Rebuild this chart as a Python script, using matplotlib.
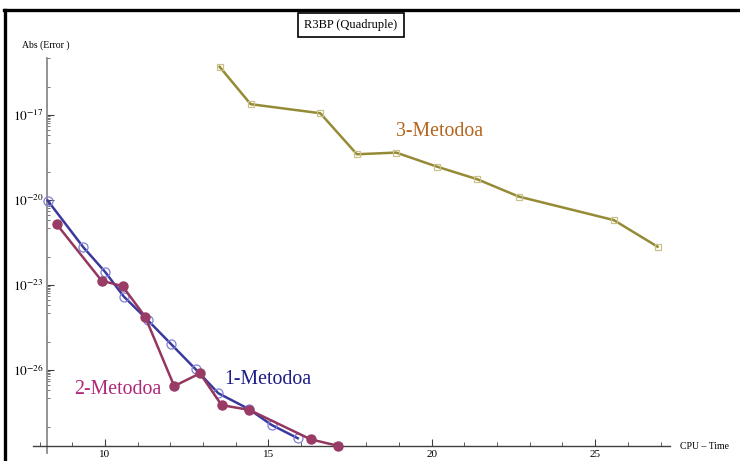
import matplotlib
matplotlib.use("Agg")
import matplotlib.pyplot as plt
from matplotlib.lines import Line2D
from matplotlib.ticker import FixedLocator, NullFormatter, FuncFormatter
import numpy as np

plt.rcParams["font.family"] = ["Liberation Serif", "DejaVu Serif"]
plt.rcParams["mathtext.fontset"] = "stix"

# CPU time vs absolute error for the three methods (quadruple precision)
m1_time = [8.25, 9.34, 10.0, 10.58, 11.31, 12.02, 12.78, 13.47, 14.4, 15.10, 15.90]
m1_err = [9.55e-21, 2.14e-22, 2.95e-23, 3.89e-24, 5.75e-25, 8.3e-26, 1.05e-26,
          1.51e-27, 4.2e-28, 1.15e-28, 3.9e-29]

m2_time = [8.52, 9.90, 10.54, 11.23, 12.12, 12.91, 13.57, 14.42, 16.30, 17.14]
m2_err = [1.41e-21, 1.41e-23, 9.1e-24, 7.6e-25, 2.7e-27, 7.6e-27, 5.75e-28,
          3.9e-28, 3.55e-29, 2.1e-29]

m3_time = [13.51, 14.46, 16.59, 17.71, 18.91, 20.16, 21.39, 22.66, 25.57, 26.91]
m3_err = [5.0e-16, 2.4e-17, 1.15e-17, 4.1e-19, 4.7e-19, 1.5e-19, 5.4e-20,
          1.32e-20, 1.95e-21, 2.24e-22]

x_major = [10, 15, 20, 25]
y_major_exp = [-17, -20, -23, -26]

W, H = 740, 461
fig = plt.figure(figsize=(W / 100, H / 100), dpi=100)
ax = fig.add_axes([33 / W, 8 / H, 637 / W, 395 / H])

ax.set_yscale("log")
ax.set_xlim(7.80, 27.29)
ax.set_ylim(10 ** -28.93, 10 ** -14.99)

ax.plot(m1_time, m1_err, color="#3a3a9e", lw=1.8, marker="o", ms=6.5,
        mfc="none", mec="#7f7fd6", mew=0.9, clip_on=False, zorder=3)
ax.plot(m2_time, m2_err, color="#94375f", lw=1.8, marker="o", ms=6.5,
        mfc="#983b65", mec="#983b65", clip_on=False, zorder=4)
ax.plot(m3_time, m3_err, color="#958a35", lw=1.8, marker="s", ms=5,
        mfc="none", mec="#c9c08a", mew=0.9, clip_on=False, zorder=3)

# Axes drawn through the plot region
for s in ("top", "right"):
    ax.spines[s].set_visible(False)
ax.spines["left"].set_position(("data", 8.22))
ax.spines["bottom"].set_position(("data", 10 ** -28.68))
ax.spines["left"].set_color("#808080")
ax.spines["bottom"].set_color("#404040")
ax.spines["left"].set_linewidth(1.2)
ax.spines["bottom"].set_linewidth(1.0)

ax.xaxis.set_major_locator(FixedLocator(x_major))
ax.xaxis.set_minor_locator(FixedLocator(np.arange(8, 28, 1)))
ax.tick_params(axis="x", which="major", direction="in", length=5, width=0.8,
               labelsize=8, pad=3, color="#404040")
ax.tick_params(axis="x", which="minor", direction="in", length=3, width=0.6,
               color="#404040")

# Log ticks: each labelled decade gets 2..9 x 10^(e-1) plus the next two decades
minor_y = []
for e in y_major_exp + [-14]:
    minor_y += [k * 10.0 ** (e - 1) for k in range(2, 10)]
    minor_y += [10.0 ** (e - 1), 10.0 ** (e - 2)]
ax.yaxis.set_major_locator(FixedLocator([10.0 ** e for e in y_major_exp]))
ax.yaxis.set_major_formatter(FuncFormatter(
    lambda v, p: r"$10^{%d}$" % int(round(np.log10(v)))))
ax.yaxis.set_minor_locator(FixedLocator(minor_y))
ax.yaxis.set_minor_formatter(NullFormatter())
ax.tick_params(axis="y", which="major", direction="in", length=5, width=0.8,
               labelsize=9.5, pad=2, color="#404040")
ax.tick_params(axis="y", which="minor", direction="in", length=2.5, width=0.5,
               color="#404040")

# Method labels
fig.text(440 / W, 1 - 132 / H, "3-Metodoa", color="#b5651d", fontsize=14.3,
         ha="center", va="center")
fig.text(268 / W, 1 - 379 / H, "1-Metodoa", color="#1c1c8a", fontsize=14.3,
         ha="center", va="center")
fig.text(117.5 / W, 1 - 389 / H, "2-Metodoa", color="#b0287a", fontsize=14.3,
         ha="center", va="center")

# Axis captions
fig.text(46 / W, 1 - 45 / H, "Abs (Error )", fontsize=7, ha="center", va="center")
fig.text(680 / W, 1 - 446 / H, "CPU – Time", fontsize=7, ha="left", va="center")

# Title in a box
fig.text(351 / W, 1 - 25 / H, "R3BP (Quadruple)", fontsize=9, ha="center",
         va="center",
         bbox=dict(boxstyle="square,pad=0.5", fc="white", ec="black", lw=1.2))

# Outer frame (top and left edges)
fig.add_artist(Line2D([4 / W, 1.0], [1 - 10 / H, 1 - 10 / H], color="black",
                      lw=2.4, transform=fig.transFigure))
fig.add_artist(Line2D([5 / W, 5 / W], [0, 1 - 10 / H], color="black",
                      lw=2.4, transform=fig.transFigure))

fig.savefig("out.png", dpi=100)
